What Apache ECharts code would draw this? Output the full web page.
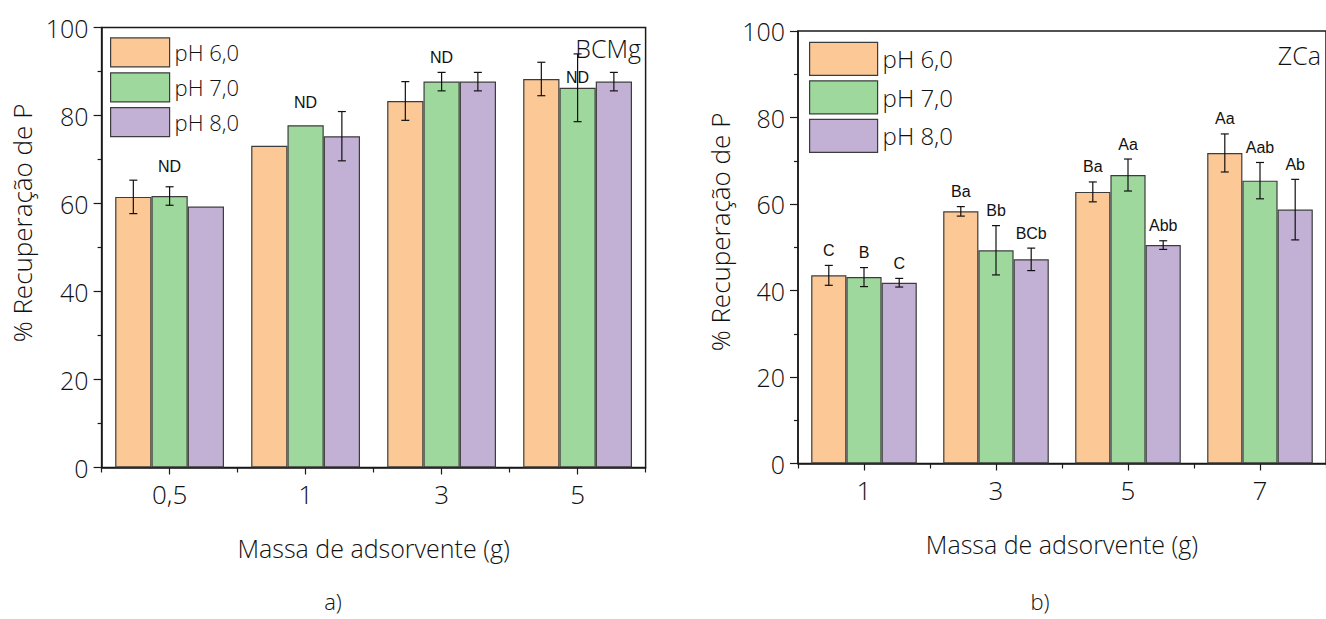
<!DOCTYPE html>
<html><head><meta charset="utf-8">
<script src="https://cdn.jsdelivr.net/npm/echarts@6/dist/echarts.min.js"></script>
<style>html,body{margin:0;padding:0;background:#fff}#c{width:1326px;height:619px}</style>
</head><body><div id="c"></div>
<script>
const seriesNames = ['pH 6,0', 'pH 7,0', 'pH 8,0'];
const colors = ['#FBC896', '#9FD89C', '#C2B1D5'];

// a) BCMg
const catsA = ['0,5', '1', '3', '5'];
const a_pH6 = [61.5, 73.1, 83.3, 88.3];
const a_pH7 = [61.7, 77.8, 87.7, 86.3];
const a_pH8 = [59.3, 75.3, 87.7, 87.7];
const a_err6 = [3.8, 0, 4.4, 3.8];
const a_err7 = [2.1, 0, 2.1, 7.7];
const a_err8 = [0, 5.6, 2.1, 2.1];
const a_ndY = [68.4, 83.0, 93.2, 88.7];
const a_ndText = ['ND', 'ND', 'ND', 'ND'];

// b) ZCa
const catsB = ['1', '3', '5', '7'];
const b_pH6 = [43.5, 58.3, 62.8, 71.8];
const b_pH7 = [43.1, 49.3, 66.7, 65.4];
const b_pH8 = [41.8, 47.2, 50.5, 58.7];
const b_err6 = [2.3, 1.1, 2.3, 4.4];
const b_err7 = [2.2, 5.7, 3.7, 4.2];
const b_err8 = [1.0, 2.6, 1.0, 7.0];
const b_lab6 = ['C', 'Ba', 'Ba', 'Aa'];
const b_lab7 = ['B', 'Bb', 'Aa', 'Aab'];
const b_lab8 = ['C', 'BCb', 'Abb', 'Ab'];

const yTicks = [0, 20, 40, 60, 80, 100];
const xTitle = 'Massa de adsorvente (g)';
const yTitle = '% Recuperação de P';

const AX = '#1a1a1a';
const TXT = '#111';
const FONT = '"Open Sans", "Noto Sans", sans-serif';
const LFONT = '"Liberation Sans", Arial, sans-serif';
const FW = 300;
const CAT_GAP = 0.2;

function barSeries(k, vals, xi, yi) {
  return {
    name: seriesNames[k], type: 'bar', xAxisIndex: xi, yAxisIndex: yi,
    data: vals, barGap: '0%', barCategoryGap: (CAT_GAP * 100) + '%',
    itemStyle: { color: colors[k], borderColor: '#3c3c3c', borderWidth: 1.2 },
    z: 2
  };
}

function errSeries(k, vals, errs, labs, xi, yi) {
  return {
    type: 'custom', xAxisIndex: xi, yAxisIndex: yi, z: 5, silent: true,
    data: vals.map((v, i) => [i, v, errs[i]]),
    renderItem: function (params, api) {
      const i = api.value(0), v = api.value(1), e = api.value(2);
      const base = api.coord([i, v]);
      const catW = api.size([1, 0])[0];
      const bw = catW * (1 - CAT_GAP) / 3;
      const x = base[0] + (k - 1) * bw;
      const children = [];
      let topY = base[1];
      const ls = { stroke: '#111', lineWidth: 1.2 };
      if (e > 0) {
        const yt = api.coord([i, v + e])[1];
        const yb = api.coord([i, v - e])[1];
        topY = yt;
        children.push({ type: 'line', shape: { x1: x, y1: yt, x2: x, y2: yb }, style: ls });
        children.push({ type: 'line', shape: { x1: x - 4, y1: yt, x2: x + 4, y2: yt }, style: ls });
        children.push({ type: 'line', shape: { x1: x - 4, y1: yb, x2: x + 4, y2: yb }, style: ls });
      }
      if (labs) {
        children.push({ type: 'text', style: { text: labs[params.dataIndex], x: x, y: topY - 7,
          align: 'center', verticalAlign: 'bottom', font: '16px ' + LFONT, fill: '#111' } });
      }
      return { type: 'group', children: children };
    }
  };
}

function ndSeries(ys, texts, xi, yi) {
  return {
    type: 'custom', xAxisIndex: xi, yAxisIndex: yi, z: 6, silent: true,
    data: ys.map((v, i) => [i, v]),
    renderItem: function (params, api) {
      const p = api.coord([api.value(0), api.value(1)]);
      return { type: 'text', style: { text: texts[params.dataIndex], x: p[0], y: p[1],
        align: 'center', verticalAlign: 'middle', font: '16px ' + LFONT, fill: '#111' } };
    }
  };
}

function xAxes(cats, gi, fs) {
  return [
    { gridIndex: gi, type: 'category', data: cats, position: 'bottom',
      axisLine: { show: true, lineStyle: { color: AX, width: 1.5 } },
      axisTick: { show: true, alignWithLabel: false, length: 5, lineStyle: { color: AX, width: 1.2 } },
      axisLabel: { show: true, color: TXT, fontSize: fs, fontFamily: FONT, fontWeight: FW, margin: 13 },
      name: xTitle, nameLocation: 'middle', nameGap: 68,
      nameTextStyle: { color: TXT, fontSize: 25, fontFamily: FONT, fontWeight: FW },
      splitLine: { show: false } },
    { gridIndex: gi, type: 'category', data: cats, position: 'bottom',
      axisLine: { show: false }, axisLabel: { show: false },
      axisTick: { show: true, alignWithLabel: true, length: 7, lineStyle: { color: AX, width: 1.2 } },
      splitLine: { show: false } }
  ];
}

function yAxis(gi, fs) {
  return { gridIndex: gi, type: 'value', min: yTicks[0], max: yTicks[yTicks.length - 1], interval: yTicks[1] - yTicks[0],
    axisLine: { show: true, lineStyle: { color: AX, width: 1.5 } },
    axisTick: { show: true, length: 8, lineStyle: { color: AX, width: 1.2 } },
    minorTick: { show: true, splitNumber: 2, length: 4, lineStyle: { color: AX, width: 1.2 } },
    splitLine: { show: false },
    axisLabel: { color: TXT, fontSize: fs, fontFamily: FONT, fontWeight: FW, margin: 13 } };
}

const chart = echarts.init(document.getElementById('c'), null, { renderer: 'svg' });
chart.setOption({
  animation: false,
  backgroundColor: '#fff',
  grid: [
    { left: 101.6, top: 27.5, width: 544, height: 440, show: true, borderColor: AX, borderWidth: 1.5, containLabel: false },
    { left: 798, top: 31, width: 536, height: 432.5, show: true, borderColor: AX, borderWidth: 1.5, containLabel: false }
  ],
  legend: [
    { orient: 'vertical', left: 110, top: 37.3, padding: 0, itemWidth: 59, itemHeight: 29, itemGap: 4.7, icon: 'rect',
      data: seriesNames, selectedMode: false, textStyle: { color: TXT, fontSize: 22, fontFamily: FONT, fontWeight: FW }, itemStyle: { borderColor: '#3c3c3c', borderWidth: 1.2 } },
    { orient: 'vertical', left: 809, top: 41.7, padding: 0, itemWidth: 68, itemHeight: 33, itemGap: 4.3, icon: 'rect',
      data: seriesNames, selectedMode: false, textStyle: { color: TXT, fontSize: 24, fontFamily: FONT, fontWeight: FW }, itemStyle: { borderColor: '#3c3c3c', borderWidth: 1.2 } }
  ],
  xAxis: [...xAxes(catsA, 0, 26), ...xAxes(catsB, 1, 26)],
  yAxis: [yAxis(0, 25), yAxis(1, 25)],
  series: [
    barSeries(0, a_pH6, 0, 0), barSeries(1, a_pH7, 0, 0), barSeries(2, a_pH8, 0, 0),
    errSeries(0, a_pH6, a_err6, null, 0, 0), errSeries(1, a_pH7, a_err7, null, 0, 0), errSeries(2, a_pH8, a_err8, null, 0, 0),
    ndSeries(a_ndY, a_ndText, 0, 0),
    barSeries(0, b_pH6, 2, 1), barSeries(1, b_pH7, 2, 1), barSeries(2, b_pH8, 2, 1),
    errSeries(0, b_pH6, b_err6, b_lab6, 2, 1), errSeries(1, b_pH7, b_err7, b_lab7, 2, 1), errSeries(2, b_pH8, b_err8, b_lab8, 2, 1)
  ],
  graphic: [
    { type: 'text', x: 22, y: 223, rotation: Math.PI / 2,
      style: { text: yTitle, font: FW + ' 26px ' + FONT, fill: TXT, align: 'center', verticalAlign: 'middle' } },
    { type: 'text', x: 720, y: 232, rotation: Math.PI / 2,
      style: { text: yTitle, font: FW + ' 26px ' + FONT, fill: TXT, align: 'center', verticalAlign: 'middle' } },
    { type: 'text', right: 1326 - 641, top: 35, style: { text: 'BCMg', font: FW + ' 25px ' + FONT, fill: TXT } },
    { type: 'text', right: 5, top: 42, style: { text: 'ZCa', font: FW + ' 25px ' + FONT, fill: TXT } },
    { type: 'text', x: 333, y: 601, style: { text: 'a)', font: FW + ' 22px ' + FONT, fill: TXT, align: 'center', verticalAlign: 'middle' } },
    { type: 'text', x: 1040, y: 601, style: { text: 'b)', font: FW + ' 22px ' + FONT, fill: TXT, align: 'center', verticalAlign: 'middle' } }
  ]
});
</script>
</body></html>
